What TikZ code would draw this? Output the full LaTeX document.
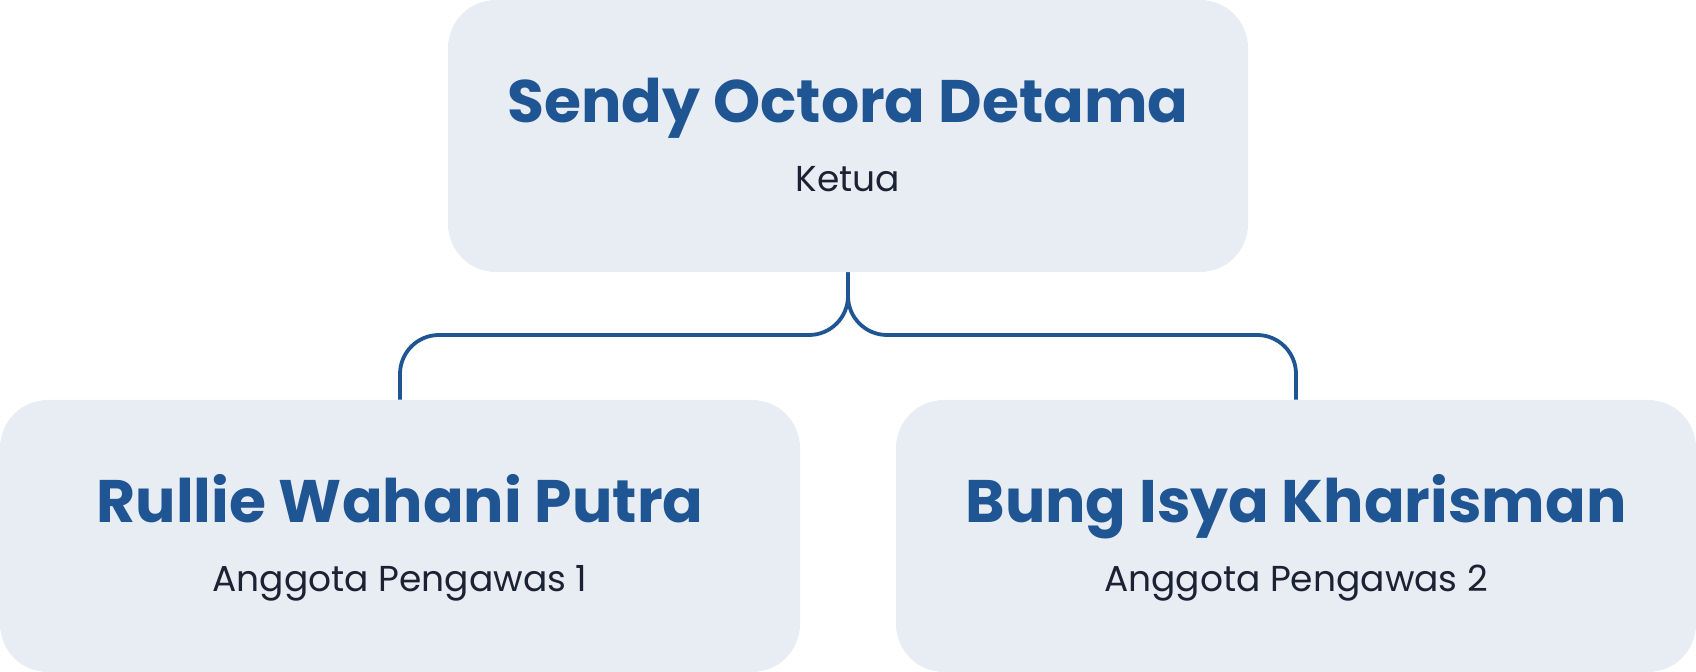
\documentclass[tikz,border=0pt]{standalone}
\usepackage{fontspec}
\setmainfont{Poppins}
\definecolor{boxfill}{HTML}{E8EDF4}
\definecolor{namecol}{HTML}{1F5593}
\definecolor{subcol}{HTML}{1B2233}
\begin{document}
\begin{tikzpicture}[x=0.5pt,y=-0.5pt,
  orgbox/.style={fill=boxfill, draw=none, rounded corners=24pt, minimum width=400pt, minimum height=136pt, inner sep=0pt},
  persontext/.style={anchor=base, text=namecol, font=\fontsize{30}{36}\selectfont\bfseries, inner sep=0pt},
  roletext/.style={anchor=base, text=subcol, font=\fontsize{18}{22}\selectfont, inner sep=0pt},
  orglink/.style={draw=namecol, line width=1.9pt, rounded corners=19.5pt}]
\useasboundingbox (0,0) rectangle (1696,672);
\node[orgbox] (top) at (848,136) {};
\node[orgbox] (left) at (400,536) {};
\node[orgbox] (right) at (1296,536) {};
\node[persontext] (topname) at (848,123) {Sendy Octora Detama};
\node[roletext] (toprole) at (848,192) {Ketua};
\node[persontext] (leftname) at (400,523) {Rullie Wahani Putra};
\node[roletext] (leftrole) at (400,592) {Anggota Pengawas 1};
\node[persontext] (rightname) at (1296,523) {Bung Isya Kharisman};
\node[roletext] (rightrole) at (1296,592) {Anggota Pengawas 2};
\coordinate (j) at (848,335);
\path[orglink] (top.south) -- (j) -| (left.north);
\path[orglink] (top.south) -- (j) -| (right.north);
\end{tikzpicture}
\end{document}
